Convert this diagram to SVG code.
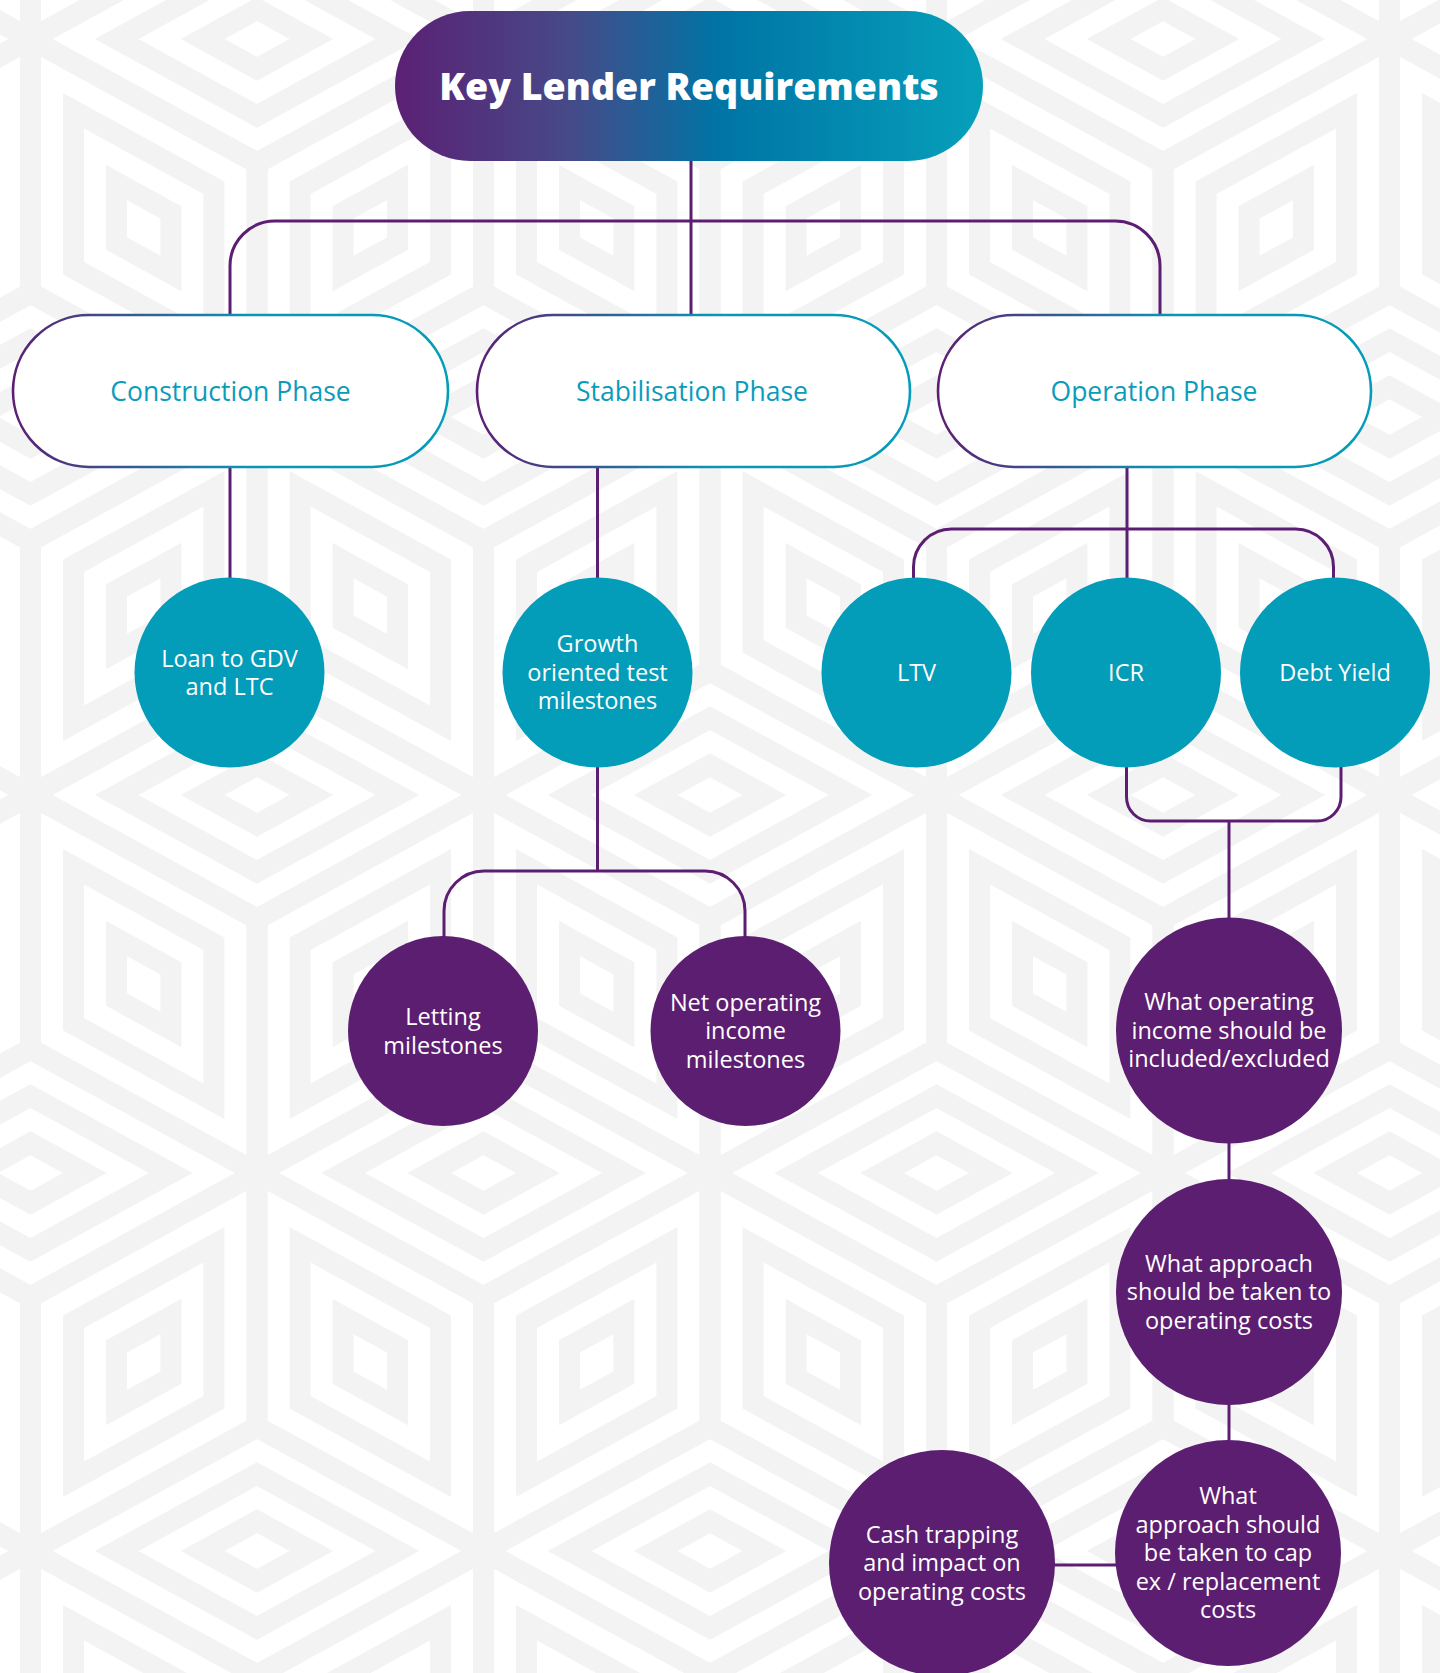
<svg xmlns="http://www.w3.org/2000/svg" xmlns:xlink="http://www.w3.org/1999/xlink" width="1440" height="1673" viewBox="0 0 1440 1673">
<style>
.bgc{fill:none;stroke:#f3f3f3;stroke-width:21;stroke-linejoin:miter}
.conn{fill:none;stroke:#5c1e72;stroke-width:3}
.pill{fill:#ffffff;stroke:url(#pillStroke);stroke-width:2.6}
.pillt{font-family:"Open Sans","Noto Sans",sans-serif;font-size:26.5px;fill:#0a9cba;text-anchor:middle}
.teal{fill:#039cb9}
.purple{fill:#5c1e71}
.ct{font-family:"Open Sans","Noto Sans",sans-serif;font-size:23.5px;fill:#ffffff;text-anchor:middle}
.title{font-family:"Open Sans","Noto Sans",sans-serif;font-size:37.5px;font-weight:800;fill:#ffffff;text-anchor:middle}
</style>
<defs>
<linearGradient id="titleGrad" x1="0" y1="0" x2="1" y2="0">
<stop offset="0" stop-color="#5b2074"/>
<stop offset="0.3" stop-color="#464a89"/>
<stop offset="0.55" stop-color="#0074a5"/>
<stop offset="1" stop-color="#06a0bb"/>
</linearGradient>
<linearGradient id="pillStroke" x1="0" y1="0" x2="1" y2="0">
<stop offset="0" stop-color="#5c1e72"/>
<stop offset="0.55" stop-color="#0a96b6"/>
<stop offset="1" stop-color="#039cb9"/>
</linearGradient>
<g id="cube" class="bgc">
<path d="M0,-124L226.5,0L0,124L-226.5,0Z M0,-76.9L140.4,0L0,76.9L-140.4,0Z M0,-29.8L54.4,0L0,29.8L-54.4,0Z"/>
<path d="M-226.5,0L0,124L0,378L-226.5,254Z M-183.45,71.8L-43.05,148.7L-43.05,306.2L-183.45,229.3Z M-140.43,143.6L-86.07,173.4L-86.07,234.4L-140.43,204.6Z"/>
<path d="M0,124L226.5,0L226.5,254L0,378Z M43.05,148.7L183.45,71.8L183.45,229.3L43.05,306.2Z M86.07,173.4L140.43,143.6L140.43,204.6L86.07,234.4Z"/>
</g>
</defs>
<rect x="0" y="0" width="1440" height="1673" fill="#ffffff"/>
<g id="background">
<use href="#cube" x="30.5" y="-339"/><use href="#cube" x="483.5" y="-339"/><use href="#cube" x="936.5" y="-339"/><use href="#cube" x="1389.5" y="-339"/>
<use href="#cube" x="-196" y="39"/><use href="#cube" x="257" y="39"/><use href="#cube" x="710" y="39"/><use href="#cube" x="1163" y="39"/><use href="#cube" x="1616" y="39"/>
<use href="#cube" x="30.5" y="417"/><use href="#cube" x="483.5" y="417"/><use href="#cube" x="936.5" y="417"/><use href="#cube" x="1389.5" y="417"/>
<use href="#cube" x="-196" y="795"/><use href="#cube" x="257" y="795"/><use href="#cube" x="710" y="795"/><use href="#cube" x="1163" y="795"/><use href="#cube" x="1616" y="795"/>
<use href="#cube" x="30.5" y="1173"/><use href="#cube" x="483.5" y="1173"/><use href="#cube" x="936.5" y="1173"/><use href="#cube" x="1389.5" y="1173"/>
<use href="#cube" x="-196" y="1551"/><use href="#cube" x="257" y="1551"/><use href="#cube" x="710" y="1551"/><use href="#cube" x="1163" y="1551"/><use href="#cube" x="1616" y="1551"/>
</g>
<g id="connectors">
<path class="conn" d="M691,161V315"/>
<path class="conn" d="M230,315V266A45,45 0 0 1 275,221H1115A45,45 0 0 1 1160,266V315"/>
<path class="conn" d="M230,467V578"/>
<path class="conn" d="M597.5,467V578"/>
<path class="conn" d="M597.5,767V871"/>
<path class="conn" d="M444,937V911A40,40 0 0 1 484,871H705A40,40 0 0 1 745,911V937"/>
<path class="conn" d="M1127,467V578"/>
<path class="conn" d="M913.5,578V567A38,38 0 0 1 951.5,529H1295.5A38,38 0 0 1 1333.5,567V578"/>
<path class="conn" d="M1126.5,767V797A24,24 0 0 0 1150.5,821H1317A24,24 0 0 0 1341,797V767"/>
<path class="conn" d="M1229,821V918"/>
<path class="conn" d="M1229,1143V1179"/>
<path class="conn" d="M1229,1405V1440"/>
<path class="conn" d="M1054,1565H1116"/>
</g>
<g id="title">
<rect x="395" y="11" width="588" height="150" rx="75" fill="url(#titleGrad)"/>
<text class="title" x="689" y="100">Key Lender Requirements</text>
</g>
<g id="construction-phase">
<rect class="pill" x="13" y="315" width="435" height="152" rx="76"/>
<text class="pillt" x="230.5" y="401">Construction Phase</text>
</g>
<g id="stabilisation-phase">
<rect class="pill" x="477" y="315" width="433" height="152" rx="76"/>
<text class="pillt" x="692" y="401">Stabilisation Phase</text>
</g>
<g id="operation-phase">
<rect class="pill" x="938" y="315" width="433" height="152" rx="76"/>
<text class="pillt" x="1154" y="401">Operation Phase</text>
</g>
<g id="loan-to-gdv">
<circle class="teal" cx="229.5" cy="672.5" r="95"/>
<text class="ct" x="229.5" y="666.6">Loan to GDV</text>
<text class="ct" x="229.5" y="695.1">and LTC</text>
</g>
<g id="growth-oriented">
<circle class="teal" cx="597.5" cy="672.5" r="95"/>
<text class="ct" x="597.5" y="652.4">Growth</text>
<text class="ct" x="597.5" y="680.9">oriented test</text>
<text class="ct" x="597.5" y="709.4">milestones</text>
</g>
<g id="ltv">
<circle class="teal" cx="916.5" cy="672.5" r="95"/>
<text class="ct" x="916.5" y="680.9">LTV</text>
</g>
<g id="icr">
<circle class="teal" cx="1126" cy="672.5" r="95"/>
<text class="ct" x="1126" y="680.9">ICR</text>
</g>
<g id="debt-yield">
<circle class="teal" cx="1335" cy="672.5" r="95"/>
<text class="ct" x="1335" y="680.9">Debt Yield</text>
</g>
<g id="letting-milestones">
<circle class="purple" cx="443" cy="1031" r="95"/>
<text class="ct" x="443" y="1025.2">Letting</text>
<text class="ct" x="443" y="1053.7">milestones</text>
</g>
<g id="noi-milestones">
<circle class="purple" cx="745.5" cy="1031" r="95"/>
<text class="ct" x="745.5" y="1010.9">Net operating</text>
<text class="ct" x="745.5" y="1039.4">income</text>
<text class="ct" x="745.5" y="1067.9">milestones</text>
</g>
<g id="operating-income">
<circle class="purple" cx="1229" cy="1030.5" r="113"/>
<text class="ct" x="1229" y="1010.4">What operating</text>
<text class="ct" x="1229" y="1038.9">income should be</text>
<text class="ct" x="1229" y="1067.4">included/excluded</text>
</g>
<g id="operating-costs">
<circle class="purple" cx="1229" cy="1292" r="113"/>
<text class="ct" x="1229" y="1271.9">What approach</text>
<text class="ct" x="1229" y="1300.4">should be taken to</text>
<text class="ct" x="1229" y="1328.9">operating costs</text>
</g>
<g id="capex">
<circle class="purple" cx="1228" cy="1553" r="113"/>
<text class="ct" x="1228" y="1504.4">What</text>
<text class="ct" x="1228" y="1532.9">approach should</text>
<text class="ct" x="1228" y="1561.4">be taken to cap</text>
<text class="ct" x="1228" y="1589.9">ex / replacement</text>
<text class="ct" x="1228" y="1618.4">costs</text>
</g>
<g id="cash-trapping">
<circle class="purple" cx="942" cy="1563" r="113"/>
<text class="ct" x="942" y="1542.9">Cash trapping</text>
<text class="ct" x="942" y="1571.4">and impact on</text>
<text class="ct" x="942" y="1599.9">operating costs</text>
</g>
</svg>
